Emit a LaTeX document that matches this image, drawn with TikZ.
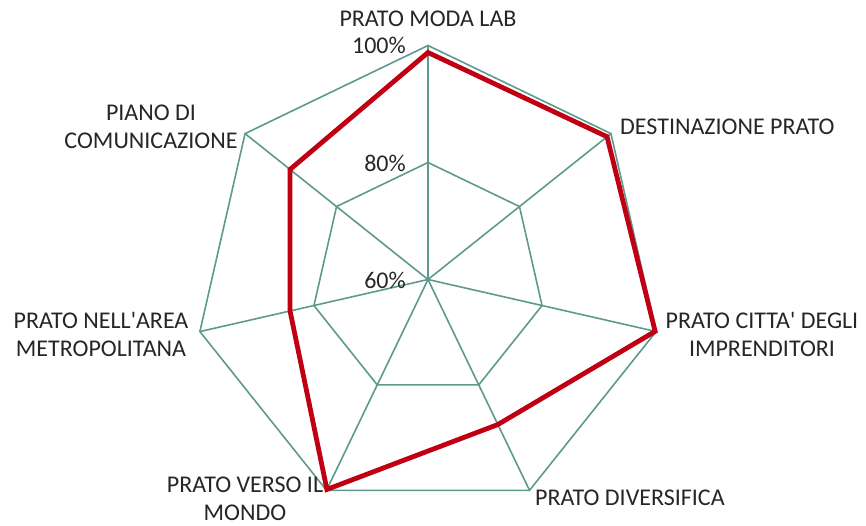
\documentclass[tikz,border=0pt]{standalone}
\usepackage{fontspec}
\setmainfont{Carlito}[Ligatures=TeXOff]
\usetikzlibrary{calc}
\definecolor{gridc}{HTML}{5E9A8C}
\definecolor{datc}{HTML}{C00012}
\definecolor{txtc}{HTML}{262626}
\begin{document}
\begin{tikzpicture}[x=1pt,y=-1pt,
  lbl/.style={font=\fontsize{24}{28}\selectfont, text=txtc, inner sep=0pt, align=center},
  gridline/.style={draw=gridc, line width=1.6pt},
  dataline/.style={draw=datc, line width=4.8pt, line join=miter}]
\useasboundingbox (0,0) rectangle (866,526);
\coordinate (O) at (428,279.5);
\foreach \i in {1,...,7} {
  \coordinate (A\i) at ([shift={({-90+(\i-1)*360/7}:234)}]O);
  \coordinate (B\i) at ([shift={({-90+(\i-1)*360/7}:117)}]O);
}
\foreach \i/\r in {1/227,2/229,3/233,4/161,5/233,6/141.5,7/176.5} {
  \coordinate (D\i) at ([shift={({-90+(\i-1)*360/7}:\r)}]O);
}
\foreach \i in {1,...,7} { \draw[gridline] (O) -- (A\i); }
\draw[gridline] (A1) -- (A2) -- (A3) -- (A4) -- (A5) -- (A6) -- (A7) -- cycle;
\draw[gridline] (B1) -- (B2) -- (B3) -- (B4) -- (B5) -- (B6) -- (B7) -- cycle;
\draw[dataline] (D1) -- (D2) -- (D3) -- (D4) -- (D5) -- (D6) -- (D7) -- cycle;
% axis value labels
\node[lbl, anchor=east] (p100) at (406,45) {100\%};
\node[lbl, anchor=east] (p80) at (406,163) {80\%};
\node[lbl, anchor=east] (p60) at (406,280) {60\%};
% category labels
\node[lbl] (c1) at (428,19) {PRATO MODA LAB};
\node[lbl, anchor=west] (c2) at (620,127) {DESTINAZIONE PRATO};
\node[lbl] (c3) at (762,334) {PRATO CITTA' DEGLI\\IMPRENDITORI};
\node[lbl, anchor=west] (c4) at (535,498) {PRATO DIVERSIFICA};
\node[lbl] (c5) at (245,499) {PRATO VERSO IL\\MONDO};
\node[lbl] (c6) at (101,334) {PRATO NELL'AREA\\METROPOLITANA};
\node[lbl] (c7) at (151,127) {PIANO DI\\COMUNICAZIONE};
\end{tikzpicture}
\end{document}
